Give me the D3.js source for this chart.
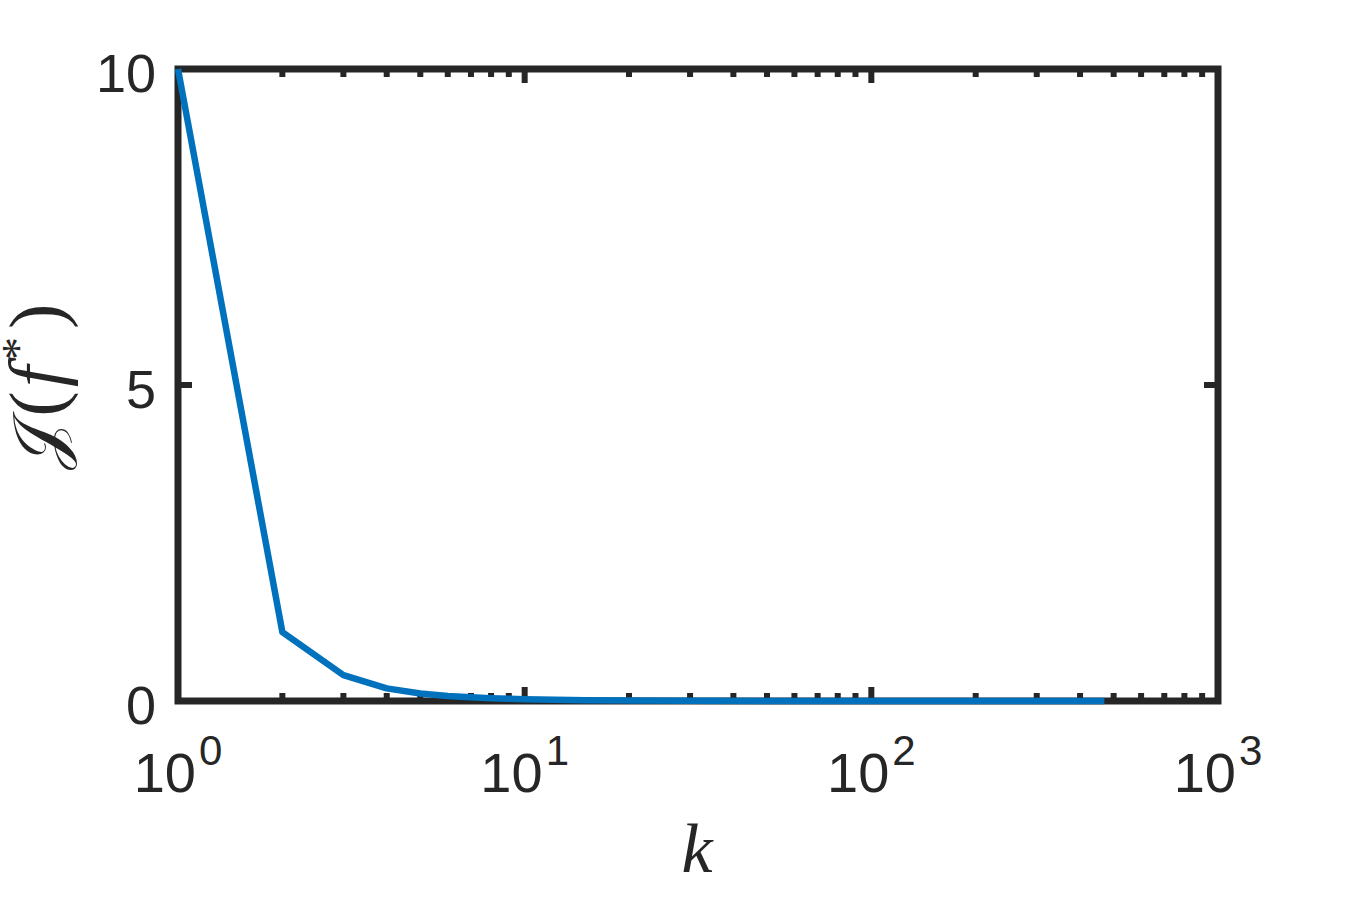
<!DOCTYPE html>
<html><head><meta charset="utf-8">
<script src="https://cdn.jsdelivr.net/npm/d3@7"></script>
<style>body{margin:0;background:#fff;} svg{display:block;}</style>
</head><body>
<svg id="chart" width="1345" height="898"></svg>
<script>
const kValues = [1, 2, 3, 4, 5, 6, 7, 8, 9, 10, 15, 20, 30, 50, 100, 200, 470];
const jValues = [10, 1.09, 0.41, 0.2, 0.12, 0.08, 0.058, 0.044, 0.035, 0.028, 0.012, 0.007, 0.003, 0.0012, 0.0003, 0.0001, 0.00001];
const yTicks = [0, 5, 10];
const xMajorTicks = [1, 10, 100, 1000];
const xTickExponents = ["0", "1", "2", "3"];

const svg = d3.select("#chart");
const L = 178, R = 1218, T = 69, B = 701;
const x = d3.scaleLog().domain([1, 1000]).range([L, R]);
const y = d3.scaleLinear().domain([0, 10]).range([B, T]);
const axisColor = "#262626";
const sw = 7;

const minor = [];
for (let d = 1; d < 1000; d *= 10) for (let m = 2; m <= 9; m++) minor.push(d * m);

const g = svg.append("g");
minor.forEach(v => {
  g.append("line").attr("x1", x(v)).attr("x2", x(v)).attr("y1", B).attr("y2", B - 8).attr("stroke", axisColor).attr("stroke-width", 6);
  g.append("line").attr("x1", x(v)).attr("x2", x(v)).attr("y1", T).attr("y2", T + 8).attr("stroke", axisColor).attr("stroke-width", 6);
});
xMajorTicks.forEach(v => {
  g.append("line").attr("x1", x(v)).attr("x2", x(v)).attr("y1", B).attr("y2", B - 14).attr("stroke", axisColor).attr("stroke-width", 6);
  g.append("line").attr("x1", x(v)).attr("x2", x(v)).attr("y1", T).attr("y2", T + 14).attr("stroke", axisColor).attr("stroke-width", 6);
});
yTicks.forEach(v => {
  g.append("line").attr("x1", L).attr("x2", L + 14).attr("y1", y(v)).attr("y2", y(v)).attr("stroke", axisColor).attr("stroke-width", 6);
  g.append("line").attr("x1", R).attr("x2", R - 14).attr("y1", y(v)).attr("y2", y(v)).attr("stroke", axisColor).attr("stroke-width", 6);
});
g.append("rect").attr("x", L).attr("y", T).attr("width", R - L).attr("height", B - T)
  .attr("fill", "none").attr("stroke", axisColor).attr("stroke-width", sw).attr("stroke-linejoin", "miter");

yTicks.forEach(v => {
  svg.append("text").attr("x", L - 22).attr("y", y(v) + 23)
    .attr("text-anchor", "end").attr("font-family", "Liberation Sans, Arial, sans-serif")
    .attr("font-size", 54).attr("fill", axisColor).text(v);
});
xMajorTicks.forEach((v, i) => {
  const t = svg.append("text").attr("x", x(v)).attr("y", 792)
    .attr("text-anchor", "middle").attr("font-family", "Liberation Sans, Arial, sans-serif")
    .attr("font-size", 56).attr("fill", axisColor);
  t.append("tspan").text("10");
  t.append("tspan").attr("dy", -27).attr("dx", 3).attr("font-size", 42).text(xTickExponents[i]);
});

svg.append("text").attr("x", 697).attr("y", 872).attr("text-anchor", "middle")
  .attr("font-family", "Liberation Serif, serif").attr("font-style", "italic")
  .attr("font-size", 70).attr("fill", axisColor).text("k");

const yl = svg.append("text").attr("transform", "translate(62,387) rotate(-90)")
  .attr("text-anchor", "middle").attr("font-family", "Liberation Serif, DejaVu Serif, serif")
  .attr("font-size", 76).attr("fill", axisColor);
yl.append("tspan").attr("font-family", "DejaVu Serif, serif").attr("font-size", 70).text("𝒥");
yl.append("tspan").attr("dx", 6).attr("font-weight", 300).text("(");
yl.append("tspan").attr("dx", 4).attr("font-style", "italic").text("f");
yl.append("tspan").attr("dy", -28).attr("dx", 6).attr("font-size", 46).text("*");
yl.append("tspan").attr("dy", 28).attr("dx", 8).text(")");

const data = kValues.map((k, i) => [k, jValues[i]]);
svg.append("path").datum(data)
  .attr("d", d3.line().x(d => x(d[0])).y(d => y(d[1])))
  .attr("fill", "none").attr("stroke", "#0072BD").attr("stroke-width", 6.5).attr("stroke-linejoin", "round");
</script>
</body></html>
